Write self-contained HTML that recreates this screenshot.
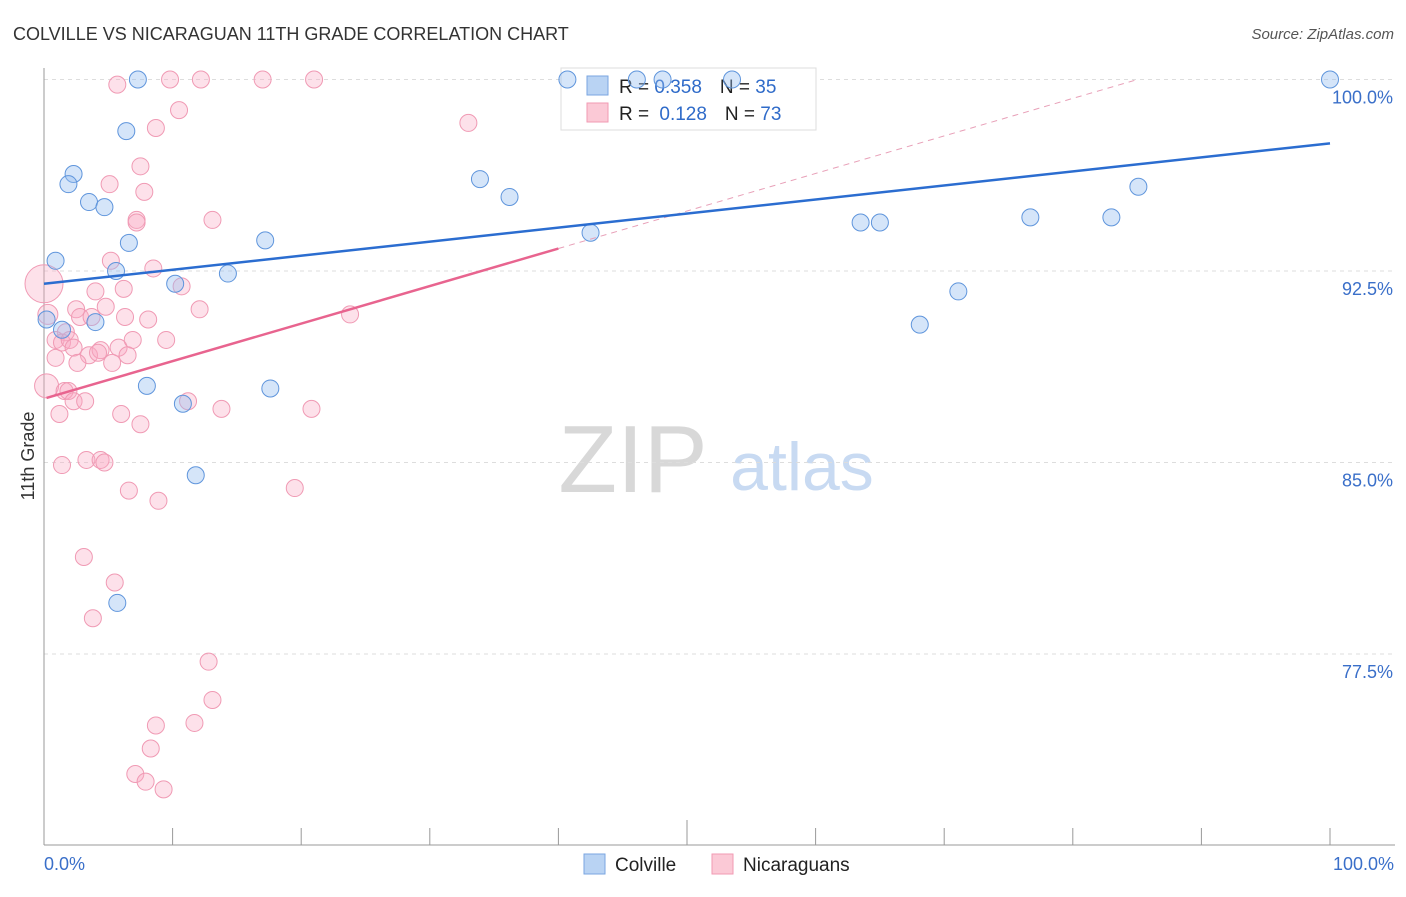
<!DOCTYPE html>
<html><head><meta charset="utf-8"><style>
body{margin:0;background:#fff;font-family:"Liberation Sans",sans-serif}
svg text{font-family:"Liberation Sans",sans-serif}
</style></head><body>
<svg id="chart" width="1406" height="892" viewBox="0 0 1406 892">
<text x="13" y="40" font-size="18" fill="#333">COLVILLE VS NICARAGUAN 11TH GRADE CORRELATION CHART</text>
<text x="1394" y="39" font-size="15" fill="#555" text-anchor="end" font-style="italic">Source: ZipAtlas.com</text>
<g>
<text x="633" y="492" font-size="96" fill="#d8d8d8" text-anchor="middle" font-family="Liberation Serif">ZIP</text>
<text x="802" y="490" font-size="68" fill="#c8daf2" text-anchor="middle">atlas</text>
</g>
<g id="grid"></g><g id="axes"></g>
<g>
<rect x="561" y="68" width="255" height="62" fill="#fff" stroke="#ddd"/>
<rect x="587" y="76" width="21" height="19" fill="#b9d3f3" stroke="#7aa6e0"/>
<rect x="587" y="103" width="21" height="19" fill="#fbc9d6" stroke="#f19ab3"/>
<text x="619" y="93" font-size="19" fill="#222">R = <tspan fill="#2f6bc9">0.358</tspan><tspan dx="18">N = </tspan><tspan fill="#2f6bc9">35</tspan></text>
<text x="619" y="120" font-size="19" fill="#222">R = <tspan dx="5" fill="#2f6bc9">0.128</tspan><tspan dx="18">N = </tspan><tspan fill="#2f6bc9">73</tspan></text>
</g>
<g id="marks"></g>
<text transform="translate(34,456) rotate(-90)" font-size="18" fill="#333" text-anchor="middle">11th Grade</text>
<g>
<rect x="584" y="854" width="21" height="20" fill="#b9d3f3" stroke="#7aa6e0"/>
<text x="615" y="871" font-size="19" fill="#222">Colville</text>
<rect x="712" y="854" width="21" height="20" fill="#fbc9d6" stroke="#f19ab3"/>
<text x="743" y="871" font-size="19" fill="#222">Nicaraguans</text>
</g>
</svg>
<script>
const yTicks=[100,92.5,85,77.5];
const yTickLabels=["100.0%","92.5%","85.0%","77.5%"];
const xTickLabels=["0.0%","100.0%"];
const colvilleX=[7.3,6.4,2.3,1.9,3.5,4.7,6.6,0.9,5.6,10.2,14.3,0.2,1.4,4.0,8.0,10.8,11.8,5.7,17.6,17.2,33.9,36.2,42.5,40.7,46.1,48.1,53.5,63.5,65.0,68.1,71.1,76.7,83.0,85.1,100];
const colvilleY=[100,97.98,96.3,95.9,95.2,95.0,93.6,92.9,92.5,92.0,92.4,90.6,90.2,90.5,88.0,87.3,84.5,79.5,87.9,93.7,96.1,95.4,94.0,100,100,100,100,94.4,94.4,90.4,91.7,94.6,94.6,95.8,100];
const nicX=[5.7,9.8,12.2,17.0,21.0,10.5,8.7,33.0,7.5,5.1,7.8,13.1,7.2,7.2,0,5.2,8.5,4.0,6.2,10.7,12.1,0.3,1.7,2.5,2.8,3.7,6.3,8.1,4.8,23.8,0.9,1.4,2.0,2.3,3.5,4.4,4.2,5.8,6.9,9.5,0.9,2.6,5.3,6.5,0.2,1.6,1.9,2.3,3.2,1.2,6.0,7.5,11.2,13.8,20.8,1.4,3.3,4.4,4.7,6.6,8.9,19.5,3.1,5.5,3.8,12.8,13.1,8.7,11.7,8.3,7.1,7.9,9.3];
const nicY=[99.8,100,100,100,100,98.8,98.1,98.3,96.6,95.9,95.6,94.5,94.5,94.4,92.0,92.9,92.6,91.7,91.8,91.9,91.0,90.8,90.1,91.0,90.7,90.7,90.7,90.6,91.1,90.8,89.8,89.7,89.8,89.5,89.2,89.4,89.3,89.5,89.8,89.8,89.1,88.9,88.9,89.2,88.0,87.8,87.8,87.4,87.4,86.9,86.9,86.5,87.4,87.1,87.1,84.9,85.1,85.1,85.0,83.9,83.5,84.0,81.3,80.3,78.9,77.2,75.7,74.7,74.8,73.8,72.8,72.5,72.2];
const blueTrend=[92.0,97.5];
const pinkTrend=[87.5,0.147];
const NS="http://www.w3.org/2000/svg";
const X=v=>44+v*12.86, Y=v=>79.5+(100-v)/7.5*191.5;
function mk(p,t,a){const e=document.createElementNS(NS,t);for(const k in a)e.setAttribute(k,a[k]);p.appendChild(e);return e;}
const grid=document.getElementById('grid'),axes=document.getElementById('axes'),marks=document.getElementById('marks');
yTicks.forEach((t,i)=>{
 const l=mk(grid,'line',{x1:44,x2:1395,y1:Y(t),y2:Y(t),stroke:'#ddd','stroke-dasharray':'4,4'});
 
 
 const tx=mk(grid,'text',{x:1393,y:Y(t)+24,'font-size':18,fill:'#3a6fc9','text-anchor':'end'});
 tx.textContent=yTickLabels[i];
 
 
});
const ya=mk(axes,'line',{x1:44,x2:44,y1:68,y2:845,stroke:'#999'});


const xa=mk(axes,'line',{x1:44,x2:1395,y1:845,y2:845,stroke:'#999'});


for(let i=1;i<=10;i++){const t=mk(axes,'line',{x1:X(i*10),x2:X(i*10),y1:i==5?820:828,y2:845,stroke:'#999'});
 
 }
[[0,'start',44],[100,'end',1394]].forEach((d,i)=>{const t=mk(axes,'text',{x:d[2],y:870,'font-size':18,fill:'#3a6fc9','text-anchor':d[1]});t.textContent=xTickLabels[i];
 
 });
const bigR={14:19,44:12,21:10};
nicX.forEach((x,i)=>{const c=mk(marks,'circle',{cx:X(x),cy:Y(nicY[i]),r:bigR[i]||8.5,fill:'rgba(248,170,194,0.35)',stroke:'#f09ab4','stroke-width':1});
 
 });
colvilleX.forEach((x,i)=>{const c=mk(marks,'circle',{cx:X(x),cy:Y(colvilleY[i]),r:8.5,fill:'rgba(150,190,240,0.4)',stroke:'#5f95dc','stroke-width':1});
 
 });
const pe=(100-pinkTrend[0])/pinkTrend[1];
const pd=mk(marks,'line',{x1:X(40),y1:Y(pinkTrend[0]+pinkTrend[1]*40),x2:X(pe),y2:Y(100),stroke:'#e8a0b8','stroke-dasharray':'6,5','stroke-width':1});


const pl=mk(marks,'line',{x1:X(0.2),y1:Y(pinkTrend[0]+pinkTrend[1]*0.2),x2:X(40),y2:Y(pinkTrend[0]+pinkTrend[1]*40),stroke:'#e8648f','stroke-width':2.5});


const bl=mk(marks,'line',{x1:X(0),y1:Y(blueTrend[0]),x2:X(100),y2:Y(blueTrend[1]),stroke:'#2b6dd0','stroke-width':2.5});


</script>
</body></html>
